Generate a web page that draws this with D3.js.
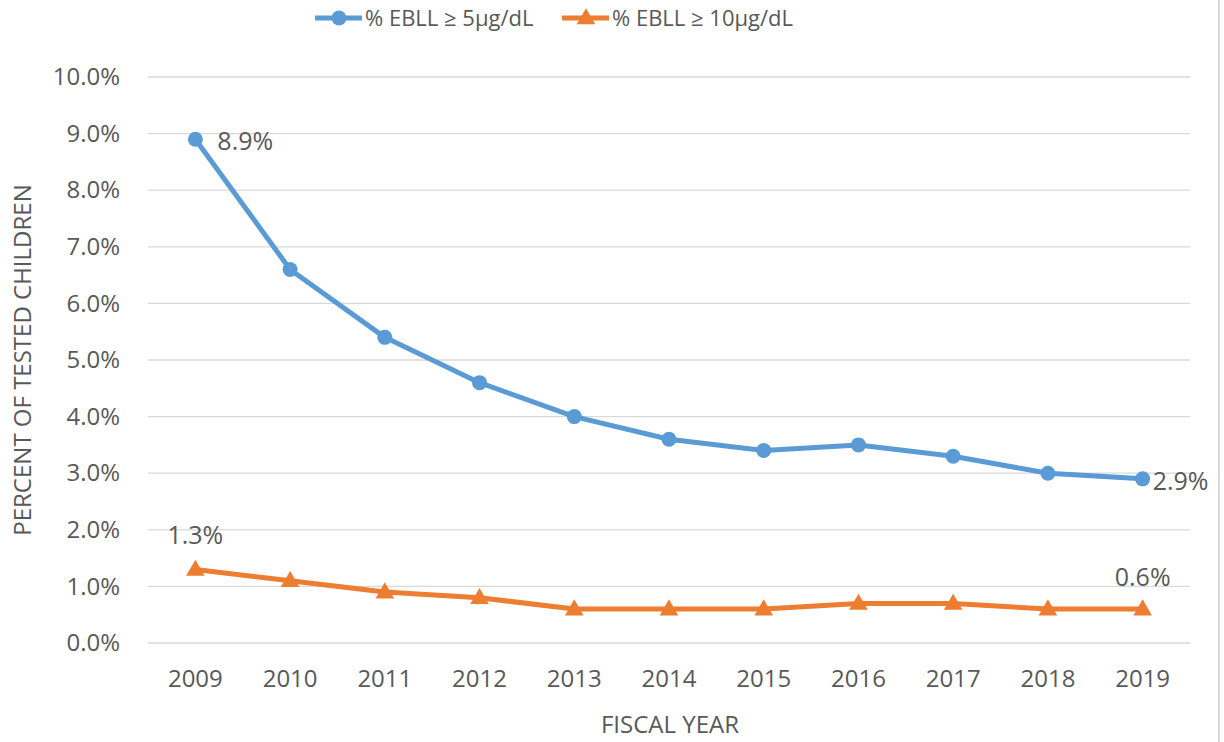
<!DOCTYPE html>
<html>
<head>
<meta charset="utf-8">
<script src="https://cdn.jsdelivr.net/npm/d3@7"></script>
<style>
  body { margin: 0; background: #fff; }
  svg text { font-family: "Open Sans", "Noto Sans", sans-serif; fill: #595959; }
</style>
</head>
<body>
<svg id="chart" width="1224" height="742"></svg>
<script>
const years = ['2009', '2010', '2011', '2012', '2013', '2014', '2015', '2016', '2017', '2018', '2019'];
const ebll5 = [8.9, 6.6, 5.4, 4.6, 4.0, 3.6, 3.4, 3.5, 3.3, 3.0, 2.9];
const ebll10 = [1.3, 1.1, 0.9, 0.8, 0.6, 0.6, 0.6, 0.7, 0.7, 0.6, 0.6];
const yTicks = [0, 1, 2, 3, 4, 5, 6, 7, 8, 9, 10];
const seriesNames = ['% EBLL \u2265 5\u03bcg/dL', '% EBLL \u2265 10\u03bcg/dL'];

const blue = '#5b9bd5', orange = '#ed7d31';
const margin = { top: 77, right: 34, bottom: 99, left: 148 };
const W = 1224, H = 742;
const width = W - margin.left - margin.right;
const height = H - margin.top - margin.bottom;

const svg = d3.select('#chart');

// chart border (right edge only visible)
svg.append('line')
  .attr('x1', 1219).attr('x2', 1219).attr('y1', 0).attr('y2', H)
  .attr('stroke', '#d9d9d9').attr('stroke-width', 2);

const g = svg.append('g').attr('transform', `translate(${margin.left},${margin.top})`);

const x = d3.scaleBand().domain(years).range([0, width]);
const y = d3.scaleLinear().domain([0, 10]).range([height, 0]);
const cx = d => x(d) + x.bandwidth() / 2;

// grid
g.selectAll('.grid').data(yTicks).enter().append('line')
  .attr('x1', 0).attr('x2', width)
  .attr('y1', d => y(d)).attr('y2', d => y(d))
  .attr('stroke', '#d9d9d9').attr('stroke-width', 1.3);

// y axis
const yAxis = d3.axisLeft(y).tickValues(yTicks).tickSize(0).tickPadding(28)
  .tickFormat(d => d.toFixed(1) + '%');
g.append('g').call(yAxis)
  .call(a => a.select('.domain').remove())
  .selectAll('text').style('font-size', '24px').attr('fill', '#595959');

// x axis
const xAxis = d3.axisBottom(x).tickSize(0).tickPadding(27);
g.append('g').attr('transform', `translate(0,${height})`).call(xAxis)
  .call(a => a.select('.domain').remove())
  .selectAll('text').style('font-size', '24px').attr('fill', '#595959');

// axis titles
svg.append('text')
  .attr('x', 670).attr('y', 733)
  .attr('text-anchor', 'middle').style('font-size', '24px').text('FISCAL YEAR');
svg.append('text')
  .attr('transform', `translate(31,360) rotate(-90)`)
  .attr('text-anchor', 'middle').style('font-size', '24px').text('PERCENT OF TESTED CHILDREN');

const line = d3.line()
  .x((d, i) => cx(years[i]))
  .y(d => y(d));

g.append('path').datum(ebll5).attr('d', line)
  .attr('fill', 'none').attr('stroke', blue).attr('stroke-width', 5).attr('stroke-linejoin', 'round');
g.append('path').datum(ebll10).attr('d', line)
  .attr('fill', 'none').attr('stroke', orange).attr('stroke-width', 5).attr('stroke-linejoin', 'round');

g.selectAll('.pt5').data(ebll5).enter().append('circle')
  .attr('cx', (d, i) => cx(years[i])).attr('cy', d => y(d)).attr('r', 7.5).attr('fill', blue);

const tri = d3.symbol().type(d3.symbolTriangle).size(150);
g.selectAll('.pt10').data(ebll10).enter().append('path')
  .attr('d', tri)
  .attr('transform', (d, i) => `translate(${cx(years[i])},${y(d) + 1})`)
  .attr('fill', orange);

// data labels
const lbl = (txt, px, py, anchor) => g.append('text')
  .attr('x', px).attr('y', py).attr('text-anchor', anchor)
  .style('font-size', '25px').attr('fill', '#404040').text(txt);
const last = years.length - 1;
lbl(ebll5[0].toFixed(1) + '%', cx(years[0]) + 22, y(ebll5[0]) + 11, 'start');
lbl(ebll5[last].toFixed(1) + '%', cx(years[last]) + 10, y(ebll5[last]) + 11, 'start');
lbl(ebll10[0].toFixed(1) + '%', cx(years[0]), y(ebll10[0]) - 25, 'middle');
lbl(ebll10[last].toFixed(1) + '%', cx(years[last]), y(ebll10[last]) - 23, 'middle');

// legend
const legend = svg.append('g').attr('transform', 'translate(0,18)');
const items = [
  { name: seriesNames[0], color: blue, x0: 315, shape: 'circle' },
  { name: seriesNames[1], color: orange, x0: 562, shape: 'tri' }
];
items.forEach(it => {
  legend.append('line').attr('x1', it.x0).attr('x2', it.x0 + 47)
    .attr('stroke', it.color).attr('stroke-width', 5);
  if (it.shape === 'circle') {
    legend.append('circle').attr('cx', it.x0 + 24).attr('r', 7.5).attr('fill', it.color);
  } else {
    legend.append('path').attr('d', tri).attr('transform', `translate(${it.x0 + 24},1)`).attr('fill', it.color);
  }
  legend.append('text').attr('x', it.x0 + 50).attr('y', 8)
    .style('font-size', '22px').text(it.name);
});
</script>
</body>
</html>
